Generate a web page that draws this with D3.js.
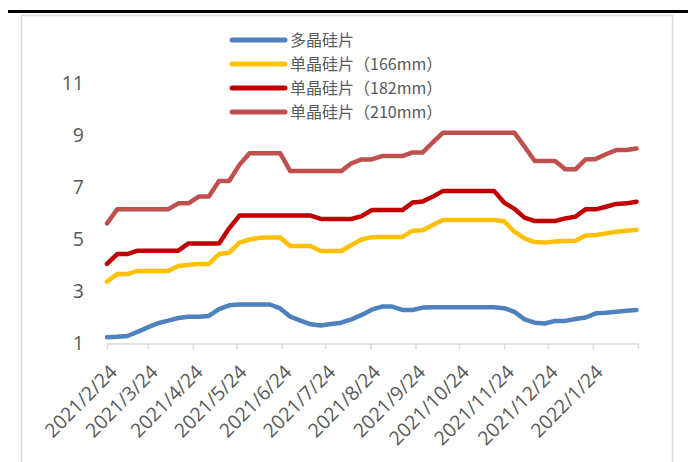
<!DOCTYPE html>
<html>
<head>
<meta charset="utf-8">
<script src="https://cdn.jsdelivr.net/npm/d3@7"></script>
<style>
  body { margin: 0; background: #fff; }
  svg { display: block; }
  .tick text, .ylab { fill: #595959; font-family: "Open Sans", "Noto Sans", sans-serif; font-size: 19.5px; }
  .legend text { fill: #595959; font-family: "Noto Sans CJK SC", sans-serif; font-size: 16px; }
</style>
</head>
<body>
<svg class="chart"></svg>
<script>
// WEEKLY DATES
var dates = ["2021-02-24","2021-03-03","2021-03-10","2021-03-17","2021-03-24","2021-03-31",
  "2021-04-07","2021-04-14","2021-04-21","2021-04-28","2021-05-05","2021-05-12","2021-05-19","2021-05-26",
  "2021-06-02","2021-06-09","2021-06-16","2021-06-23","2021-06-30","2021-07-07","2021-07-14","2021-07-21","2021-07-28",
  "2021-08-04","2021-08-11","2021-08-18","2021-08-25","2021-09-01","2021-09-08","2021-09-15","2021-09-22","2021-09-29",
  "2021-10-06","2021-10-13","2021-10-20","2021-10-27","2021-11-03","2021-11-10","2021-11-17","2021-11-24",
  "2021-12-01","2021-12-08","2021-12-15","2021-12-22","2021-12-29","2022-01-05","2022-01-12","2022-01-19","2022-01-26",
  "2022-02-02","2022-02-09","2022-02-16","2022-02-23"];

var poly = [1.24,1.26,1.29,1.45,1.62,1.78,1.88,1.98,2.03,2.03,2.06,2.32,2.47,2.5,2.5,2.5,2.5,2.35,2.03,1.88,1.74,1.69,1.75,
  1.8,1.93,2.1,2.3,2.42,2.42,2.29,2.29,2.38,2.39,2.39,2.39,2.39,2.39,2.39,2.39,2.36,2.22,1.93,1.8,1.77,1.87,1.87,1.94,2.0,
  2.16,2.18,2.22,2.26,2.29];

var mono166 = [3.38,3.67,3.67,3.79,3.79,3.79,3.79,3.98,4.03,4.06,4.06,4.44,4.49,4.88,5.0,5.07,5.08,5.08,4.75,4.75,4.75,
  4.56,4.56,4.56,4.79,5.0,5.09,5.1,5.1,5.1,5.34,5.36,5.56,5.75,5.75,5.75,5.75,5.75,5.75,5.7,5.3,5.04,4.9,4.88,4.92,4.94,
  4.95,5.15,5.17,5.23,5.3,5.34,5.37];

var mono182 = [4.06,4.44,4.44,4.57,4.57,4.57,4.57,4.57,4.85,4.85,4.85,4.85,5.43,5.92,5.92,5.92,5.92,5.92,5.92,5.92,5.92,
  5.79,5.79,5.79,5.79,5.9,6.13,6.13,6.13,6.13,6.42,6.46,6.65,6.87,6.87,6.87,6.87,6.87,6.87,6.42,6.18,5.84,5.71,5.71,5.71,
  5.81,5.88,6.16,6.16,6.26,6.37,6.39,6.45];

var mono210 = [5.62,6.16,6.16,6.16,6.16,6.16,6.16,6.39,6.39,6.65,6.65,7.25,7.25,7.87,8.32,8.32,8.32,8.32,7.63,7.63,7.63,
  7.63,7.63,7.63,7.93,8.08,8.08,8.21,8.21,8.21,8.35,8.35,8.74,9.11,9.11,9.11,9.11,9.11,9.11,9.11,9.11,8.57,8.02,8.02,8.02,
  7.7,7.7,8.08,8.1,8.28,8.44,8.44,8.5];

var seriesNames = ["多晶硅片", "单晶硅片（166mm）", "单晶硅片（182mm）", "单晶硅片（210mm）"];
var seriesColors = ["#4F81BD", "#FFC000", "#C00000", "#C0504D"];

var monthTicks = ["2021-02-24","2021-03-24","2021-04-24","2021-05-24","2021-06-24","2021-07-24","2021-08-24",
  "2021-09-24","2021-10-24","2021-11-24","2021-12-24","2022-01-24","2022-02-24"];
var yTicks = [1, 3, 5, 7, 9, 11];

var width = 688, height = 462;
var parse = d3.utcParse("%Y-%m-%d");

var svg = d3.select(".chart").attr("width", width).attr("height", height);

// FRAME
svg.append("rect")
  .attr("x", 21.5).attr("y", 15.5)
  .attr("width", 651).attr("height", 460)
  .attr("fill", "none").attr("stroke", "#D9D9D9").attr("stroke-width", 1.5);

svg.append("line")
  .attr("x1", 8).attr("x2", 688).attr("y1", 11.5).attr("y2", 11.5)
  .attr("stroke", "#000").attr("stroke-width", 3);

// SCALES
var x = d3.scaleUtc()
  .domain([parse(monthTicks[0]), parse(monthTicks[monthTicks.length - 1])])
  .range([107, 638]);
var y = d3.scaleLinear().domain([1, 11]).range([343.5, 83.5]);

// X AXIS
var fmt = d3.utcFormat("%Y/%-m/%-d");
var xAxis = d3.axisBottom(x)
  .tickValues(monthTicks.map(parse))
  .tickSize(6)
  .tickSizeOuter(0)
  .tickFormat(function(d, i) { return i === monthTicks.length - 1 ? "" : fmt(d); });

var gx = svg.append("g")
  .attr("transform", "translate(0," + y(1) + ")")
  .call(xAxis);
gx.select(".domain").attr("stroke", "#D9D9D9").attr("stroke-width", 1.5);
gx.selectAll(".tick line").attr("stroke", "#D9D9D9").attr("stroke-width", 1.5);
gx.selectAll(".tick text")
  .attr("x", 0).attr("y", 0).attr("dy", "0.35em")
  .style("text-anchor", "end")
  .attr("transform", "translate(6,25) rotate(-45)");

// Y LABELS
svg.selectAll(".ylab").data(yTicks).enter().append("text")
  .attr("class", "ylab")
  .attr("x", 84)
  .attr("y", function(d) { return y(d); })
  .attr("dy", "0.35em")
  .style("text-anchor", "end")
  .text(function(d) { return d; });

// LINES
var allSeries = [poly, mono166, mono182, mono210];
var line = d3.line()
  .x(function(d, i) { return x(parse(dates[i])); })
  .y(function(d) { return y(d); });

svg.selectAll(".series").data(allSeries).enter().append("path")
  .attr("class", "series")
  .attr("d", line)
  .attr("fill", "none")
  .attr("stroke", function(d, i) { return seriesColors[i]; })
  .attr("stroke-width", 4.5)
  .attr("stroke-linejoin", "round")
  .attr("stroke-linecap", "round");

// LEGEND
var legend = svg.append("g").attr("class", "legend");
var rows = legend.selectAll("g").data(seriesNames).enter().append("g")
  .attr("transform", function(d, i) { return "translate(0," + (40 + i * 24) + ")"; });
rows.append("line")
  .attr("x1", 232).attr("x2", 285)
  .attr("stroke", function(d, i) { return seriesColors[i]; })
  .attr("stroke-width", 5)
  .attr("stroke-linecap", "round");
rows.append("text")
  .attr("x", 290).attr("dy", "0.35em")
  .text(function(d) { return d; });
</script>
</body>
</html>
